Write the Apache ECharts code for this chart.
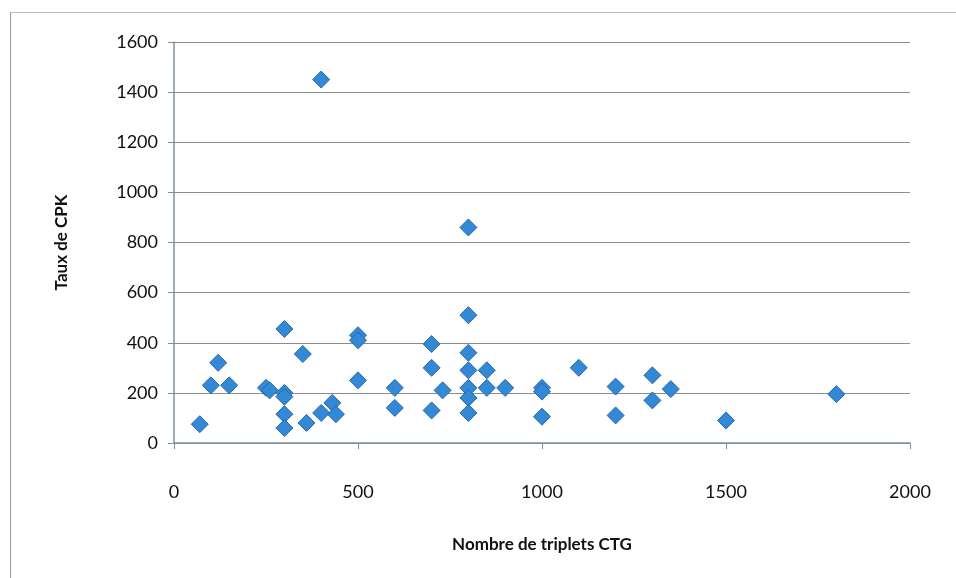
<!DOCTYPE html>
<html>
<head>
<meta charset="utf-8">
<script src="https://cdn.jsdelivr.net/npm/echarts@6/dist/echarts.min.js"></script>
<style>
  html, body { margin: 0; padding: 0; background: #fff; }
  #frame { position: absolute; left: 10px; top: 12px; width: 960px; height: 580px;
           border-left: 1px solid #8e9ba8; border-top: 1px solid #b8c2cc; }
  #chart { position: absolute; left: 0; top: 0; width: 956px; height: 578px; }
</style>
</head>
<body>
<div id="frame"></div>
<div id="chart"></div>
<script>
// Nombre de triplets CTG (x) / Taux de CPK (y)
const triplets = [70, 100, 120, 150, 250, 260, 300, 300, 300, 300, 300, 350, 360, 400, 400, 430, 440,
  500, 500, 500, 600, 600, 700, 700, 700, 730, 800, 800, 800, 800, 800, 800, 800, 850, 850, 900,
  1000, 1000, 1000, 1100, 1200, 1200, 1300, 1300, 1350, 1500, 1800]
const cpk = [75, 230, 320, 230, 220, 210, 455, 200, 185, 115, 60, 355, 80, 120, 1450, 160, 115,
  430, 410, 250, 220, 140, 395, 300, 130, 210, 860, 510, 360, 290, 220, 180, 120, 290, 220, 220,
  220, 205, 105, 300, 225, 110, 270, 170, 215, 90, 195]
const xTicks = [0, 500, 1000, 1500, 2000]
const yTicks = [0, 200, 400, 600, 800, 1000, 1200, 1400, 1600]

const points = triplets.map((x, i) => [x, cpk[i]])
const font = 'Lato, "Open Sans", sans-serif'
const plain = v => String(v)

const chart = echarts.init(document.getElementById('chart'))
chart.setOption({
  animation: false,
  grid: { left: 174, right: 46, top: 42, bottom: 135 },
  xAxis: {
    type: 'value',
    min: xTicks[0],
    max: xTicks[xTicks.length - 1],
    interval: 500,
    name: 'Nombre de triplets CTG',
    nameLocation: 'middle',
    nameGap: 93,
    nameTextStyle: { fontFamily: font, fontSize: 17, fontWeight: 'bold', color: '#111' },
    axisLine: { show: true, lineStyle: { color: '#7f91a2', width: 1.5 } },
    axisTick: { show: true, length: 6, lineStyle: { color: '#7f91a2' } },
    axisLabel: { fontFamily: font, fontSize: 18, color: '#111', margin: 40, formatter: plain },
    splitLine: { show: false }
  },
  yAxis: {
    type: 'value',
    min: yTicks[0],
    max: yTicks[yTicks.length - 1],
    interval: 200,
    name: 'Taux de CPK',
    nameLocation: 'middle',
    nameGap: 104,
    nameTextStyle: { fontFamily: font, fontSize: 17, fontWeight: 'bold', color: '#111' },
    axisLine: { show: true, lineStyle: { color: '#7f91a2', width: 1.5 } },
    axisTick: { show: true, length: 6, lineStyle: { color: '#7f91a2' } },
    axisLabel: { fontFamily: font, fontSize: 18, color: '#111', margin: 16, formatter: plain },
    splitLine: { show: true, lineStyle: { color: '#8c8c8c', width: 1.2 } }
  },
  series: [{
    type: 'scatter',
    data: points,
    symbol: 'diamond',
    symbolSize: [17, 17],
    itemStyle: { color: '#3389d6', borderColor: '#2867a6', borderWidth: 1, opacity: 1 }
  }]
})
</script>
</body>
</html>
